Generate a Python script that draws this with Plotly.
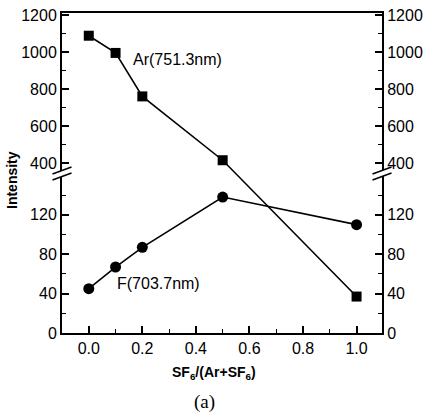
import plotly.graph_objects as go

# ---- data ----
x_frac = [0.0, 0.1, 0.2, 0.5, 1.0]
ar_751 = [1088, 995, 760, 415, 37]
f_703 = [45, 67, 87, 138, 110]
low_ticks = [0, 40, 80, 120]
high_ticks = [400, 600, 800, 1000, 1200]
low_minor = [20, 60, 100, 140]
high_minor = [500, 700, 900, 1100]
x_ticks = [0.0, 0.2, 0.4, 0.6, 0.8, 1.0]
x_minor = [-0.1, 0.1, 0.3, 0.5, 0.7, 0.9, 1.1]

# ---- broken-axis scale (piecewise linear) ----
def ty(v):
    return v * 0.985 if v < 300 else 170 + (v - 400) * 0.185

W, H = 430, 414
L, R, T, B = 62, 48, 13, 81
PW, PH = W - L - R, H - T - B
YMAX = 320

def px(xp):
    return (xp - L) / PW

def py(yp):
    return (H - B - yp) / PH

font_sans = "Liberation Sans, Arial, sans-serif"

fig = go.Figure()
fig.add_trace(go.Scatter(
    x=x_frac, y=[ty(v) for v in ar_751], mode="lines+markers",
    line=dict(color="black", width=1.6),
    marker=dict(symbol="square", size=10, color="black"),
    showlegend=False, hoverinfo="skip"))
fig.add_trace(go.Scatter(
    x=x_frac, y=[ty(v) for v in f_703], mode="lines+markers",
    line=dict(color="black", width=1.6),
    marker=dict(symbol="circle", size=11, color="black"),
    showlegend=False, hoverinfo="skip"))
fig.add_trace(go.Scatter(x=[], y=[], yaxis="y2", showlegend=False))

all_ticks = low_ticks + high_ticks
tickvals = [ty(v) for v in all_ticks]
ticktext = [str(v) for v in all_ticks]
minor_vals = [ty(v) for v in low_minor + high_minor]

yax_common = dict(
    range=[0, YMAX], tickmode="array", tickvals=tickvals, ticktext=ticktext,
    ticks="inside", ticklen=7, tickwidth=1.5, tickcolor="black",
    showline=True, linecolor="black", linewidth=2,
    showgrid=False, zeroline=False, automargin=False,
    tickfont=dict(family=font_sans, size=16, color="black"),
    minor=dict(tickmode="array", tickvals=minor_vals, ticks="inside",
               ticklen=4, tickwidth=1.2, tickcolor="black"),
)

fig.update_layout(
    width=W, height=H,
    margin=dict(l=L, r=R, t=T, b=B),
    paper_bgcolor="white", plot_bgcolor="white",
    xaxis=dict(
        range=[-0.1, 1.095], tickmode="array", tickvals=x_ticks,
        ticktext=[f"{v:.1f}" for v in x_ticks],
        ticks="inside", ticklen=7, tickwidth=1.5, tickcolor="black",
        showline=True, linecolor="black", linewidth=2, mirror=True,
        showgrid=False, zeroline=False, automargin=False,
        tickfont=dict(family=font_sans, size=16, color="black"),
        minor=dict(tickmode="array", tickvals=x_minor, ticks="inside",
                   ticklen=4, tickwidth=1.2, tickcolor="black"),
    ),
    yaxis=dict(**yax_common),
    yaxis2=dict(**yax_common, overlaying="y", side="right", anchor="x"),
    annotations=[
        dict(text="Ar(751.3nm)", x=px(131), y=py(60), xref="paper", yref="paper",
             xanchor="left", yanchor="middle", showarrow=False,
             font=dict(family=font_sans, size=16, color="black")),
        dict(text="F(703.7nm)", x=px(115), y=py(283), xref="paper", yref="paper",
             xanchor="left", yanchor="middle", showarrow=False,
             font=dict(family=font_sans, size=16, color="black")),
        dict(text="<b>Intensity</b>", x=px(12), y=py(180), xref="paper", yref="paper",
             xanchor="center", yanchor="middle", showarrow=False, textangle=-90,
             font=dict(family=font_sans, size=14, color="black")),
        dict(text="<b>SF<sub>6</sub>/(Ar+SF<sub>6</sub>)</b>", x=px(214), y=py(373),
             xref="paper", yref="paper", xanchor="center", yanchor="middle",
             showarrow=False, font=dict(family=font_sans, size=14, color="black")),
        dict(text="(a)", x=px(204), y=py(402), xref="paper", yref="paper",
             xanchor="center", yanchor="middle", showarrow=False,
             font=dict(family="Liberation Serif, Times New Roman, serif", size=19, color="black")),
    ],
)

# axis-break marks
shapes = []
for ax in (62.5, 382.5):
    x0, x1 = ax - 10, ax + 9
    path = (f"M {px(x0)},{py(174)} L {px(x1)},{py(167)} "
            f"L {px(x1)},{py(173)} L {px(x0)},{py(180)} Z")
    shapes.append(dict(type="path", path=path, xref="paper", yref="paper",
                       fillcolor="white", line=dict(width=0), layer="above"))
    for dy in (0, 6):
        shapes.append(dict(type="line", xref="paper", yref="paper",
                           x0=px(x0), y0=py(174 + dy), x1=px(x1), y1=py(167 + dy),
                           line=dict(color="black", width=1.5), layer="above"))
fig.update_layout(shapes=shapes)

fig.write_html("out.html", config={"displayModeBar": False},
               post_script="document.body.style.margin='0';document.body.style.overflow='hidden';")
